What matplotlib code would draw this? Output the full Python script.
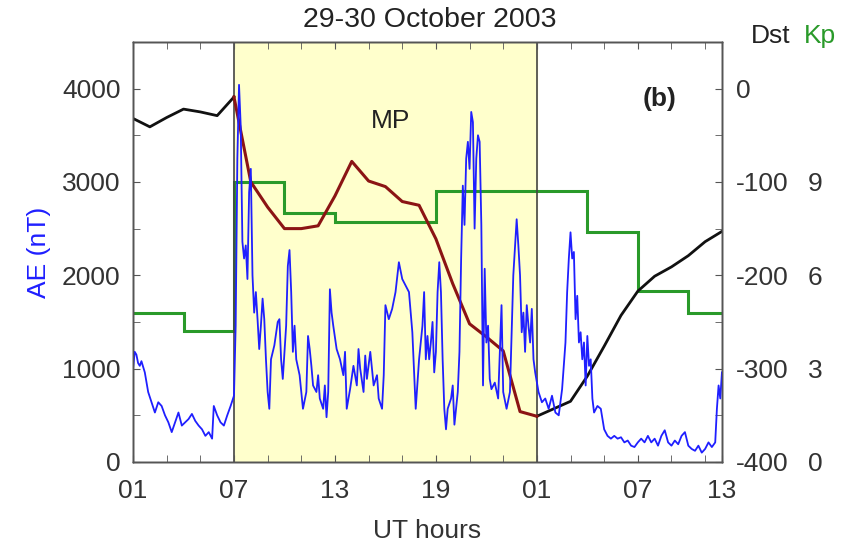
import numpy as np
import matplotlib
matplotlib.use('Agg')
import matplotlib.pyplot as plt
from matplotlib.ticker import MultipleLocator, FixedLocator

plt.rcParams['font.family'] = ['Liberation Sans', 'DejaVu Sans']
plt.rcParams['axes.unicode_minus'] = False

# AE (nT) as (hour, value); hour 1 = 01 UT 29 Oct
ae_pre = [(1.0, 1000), (1.1, 1180), (1.2, 1150), (1.3, 1060), (1.4, 1030), (1.5, 1080),
          (1.7, 960), (1.9, 750), (2.1, 640), (2.3, 530), (2.5, 640), (2.7, 600),
          (2.9, 500), (3.1, 425), (3.3, 320), (3.5, 425), (3.7, 530), (3.9, 390),
          (4.1, 425), (4.3, 460), (4.5, 515), (4.7, 440), (4.9, 390), (5.1, 350),
          (5.3, 280), (5.5, 320), (5.7, 250), (5.8, 600), (6.0, 500), (6.2, 425),
          (6.4, 390), (6.6, 500), (6.8, 600), (7.0, 710)]
ae_main = [(7.1, 1460), (7.2, 3250), (7.3, 4040), (7.4, 3600), (7.5, 2360), (7.6, 2180),
           (7.7, 2320), (7.8, 1960), (7.9, 2890), (8.0, 3140), (8.1, 2000), (8.2, 1600),
           (8.3, 1820), (8.4, 1530), (8.5, 1210), (8.6, 1460), (8.7, 1750), (8.8, 1530),
           (8.9, 1100), (9.0, 750), (9.1, 570), (9.2, 1100), (9.4, 1250), (9.6, 1500),
           (9.7, 1530), (9.8, 1100), (9.9, 890), (10.1, 1460), (10.2, 2100), (10.3, 2270),
           (10.4, 1820), (10.5, 1180), (10.6, 1460), (10.7, 1100), (10.9, 930), (11.1, 570),
           (11.3, 750), (11.4, 1350), (11.5, 1210), (11.6, 1030), (11.7, 820), (11.9, 750),
           (12.0, 930), (12.1, 680), (12.3, 570), (12.4, 820), (12.5, 480), (12.6, 750),
           (12.7, 1850), (12.8, 1600), (12.9, 1460), (13.1, 1210), (13.3, 1100), (13.5, 930),
           (13.6, 1180), (13.7, 570), (13.9, 780), (14.1, 1030), (14.3, 820), (14.4, 1210),
           (14.5, 1000), (14.7, 750), (14.8, 1140), (14.9, 890), (15.1, 1180), (15.3, 820),
           (15.5, 930), (15.6, 680), (15.8, 570), (15.9, 930), (16.0, 1680), (16.2, 1530),
           (16.4, 1640), (16.6, 1820), (16.8, 2140), (17.0, 1960), (17.2, 1890), (17.4, 1820),
           (17.6, 1390), (17.8, 570), (18.0, 1100), (18.2, 1460), (18.3, 1820), (18.4, 1100),
           (18.5, 1350), (18.6, 1100), (18.7, 1280), (18.8, 1500), (18.9, 960), (19.0, 1180),
           (19.1, 1820), (19.2, 2140), (19.3, 1820), (19.4, 1100), (19.5, 570), (19.6, 350),
           (19.7, 570), (19.9, 680), (20.0, 820), (20.1, 400), (20.3, 750), (20.4, 1180),
           (20.5, 2180), (20.6, 2960), (20.7, 2540), (20.8, 3250), (20.9, 3430), (21.0, 3140),
           (21.1, 3750), (21.2, 3640), (21.3, 2500), (21.4, 3250), (21.5, 3500), (21.6, 3430),
           (21.7, 2540), (21.8, 820), (21.9, 2070), (22.0, 1280), (22.1, 1460), (22.2, 890),
           (22.3, 780), (22.5, 850), (22.7, 680), (22.8, 1180), (22.9, 1680), (23.0, 750),
           (23.2, 570), (23.4, 750), (23.6, 2000), (23.8, 2600), (23.9, 2320), (24.0, 2000),
           (24.1, 1390), (24.2, 1600), (24.3, 1180), (24.4, 1680), (24.5, 1460), (24.6, 1280),
           (24.7, 1640), (24.8, 1100), (24.9, 960)]
ae_rec = [(25.1, 750), (25.3, 640), (25.5, 680), (25.7, 570), (25.9, 710), (26.1, 530),
          (26.3, 500), (26.5, 780), (26.7, 1280), (26.8, 1820), (26.9, 2180), (27.0, 2460),
          (27.1, 2180), (27.2, 2250), (27.3, 1530), (27.4, 1780), (27.5, 1280), (27.6, 1390),
          (27.7, 1100), (27.8, 1280), (27.9, 820), (28.0, 1350), (28.1, 1030), (28.2, 1100),
          (28.3, 680), (28.4, 530), (28.6, 600), (28.8, 570), (29.0, 350), (29.2, 280),
          (29.4, 250), (29.6, 280), (29.8, 250), (30.0, 265), (30.2, 210), (30.4, 230),
          (30.6, 175), (30.8, 160), (31.0, 210), (31.2, 250), (31.4, 210), (31.6, 280),
          (31.8, 210), (32.0, 250), (32.2, 175), (32.4, 280), (32.6, 340), (32.8, 210),
          (33.0, 175), (33.2, 230), (33.4, 190), (33.6, 280), (33.8, 320), (34.0, 175),
          (34.2, 140), (34.4, 120), (34.6, 175), (34.8, 100), (35.0, 140), (35.2, 210),
          (35.4, 160), (35.6, 210), (35.7, 570), (35.8, 820), (35.9, 680), (36.0, 960)]

# Dst (nT), hourly from hour 1 to 36
dst_hours = np.arange(1, 37)
dst = [-32, -41, -31, -22, -25, -29, -9, -100, -127, -150, -150, -147, -115, -78, -99, -105,
       -121, -125, -161, -209, -252, -266, -281, -346, -351, -343, -335, -308, -276, -243,
       -217, -201, -191, -179, -164, -153]

# Kp, 3-hour steps
kp_edges = [1, 4, 7, 10, 13, 16, 19, 22, 25, 28, 31, 34, 36]
kp = [4.8, 4.2, 9.0, 8.0, 7.7, 7.7, 8.7, 8.7, 8.7, 7.4, 5.5, 4.8]

mp_start, mp_end = 7, 25
xtick_pos = [1, 7, 13, 19, 25, 31, 36]
xtick_lab = ['01', '07', '13', '19', '01', '07', '13']

ae = np.array(ae_pre + ae_main + ae_rec)
dst = np.array(dst)

tick_col = '#333333'
fs = 19

fig = plt.figure(figsize=(8.56, 5.47), dpi=100)
ax = fig.add_axes([0.1554, 0.1554, 0.688, 0.768])
ax_dst = ax.twinx()
ax_kp = ax.twinx()

# layering: shading + Kp at the bottom, Dst in the middle, AE on top
ax_kp.set_zorder(1)
ax_dst.set_zorder(2)
ax.set_zorder(3)
ax.patch.set_visible(False)
ax_dst.patch.set_visible(False)

ax_kp.axvspan(mp_start, mp_end, color='#ffffcc', zorder=0)
ax_kp.axvline(mp_start, color='#444444', lw=1.2)
ax_kp.axvline(mp_end, color='#444444', lw=1.2)
ax_kp.stairs(kp, kp_edges, baseline=None, color='#2a9a2a', lw=2.2)

m = (dst_hours >= mp_start) & (dst_hours <= mp_end)
ax_dst.plot(dst_hours[dst_hours <= mp_start], dst[dst_hours <= mp_start], color='#111111', lw=2)
ax_dst.plot(dst_hours[dst_hours >= mp_end], dst[dst_hours >= mp_end], color='#111111', lw=2)
ax_dst.plot(dst_hours[m], dst[m], color='#8b1414', lw=2.2)

ax.plot(ae[:, 0], ae[:, 1], color='#1f1fff', lw=1.3)

ax.set_xlim(1, 36)
ax.set_ylim(0, 4500)
ax_dst.set_ylim(-400, 50)
ax_kp.set_ylim(0, 13.5)

ax.set_xticks(xtick_pos)
ax.set_xticklabels(xtick_lab)
ax.xaxis.set_minor_locator(FixedLocator(np.arange(1, 37, 2)))
ax.set_yticks([0, 1000, 2000, 3000, 4000])
ax.yaxis.set_minor_locator(MultipleLocator(500))
ax.tick_params(which='both', direction='in', top=True, length=5, color='#555555',
               labelsize=fs, labelcolor=tick_col, pad=9)
ax.tick_params(axis='x', which='major', pad=12)

ax_dst.set_yticks([-400, -300, -200, -100, 0])
ax_dst.yaxis.set_minor_locator(MultipleLocator(50))
ax_dst.tick_params(which='both', direction='in', length=5, color='#555555',
                   labelsize=fs, labelcolor=tick_col, pad=10)

ax_kp.set_yticks([0, 3, 6, 9])
ax_kp.tick_params(length=0, labelsize=fs, labelcolor=tick_col, pad=62)

for a in (ax, ax_dst, ax_kp):
    for s in a.spines.values():
        s.set_color('#555555')
        s.set_linewidth(1.0)

ax.set_xlabel('UT hours', fontsize=fs, color=tick_col, labelpad=12)
ax.set_ylabel('AE (nT)', fontsize=fs, color='#1f1fff', labelpad=8)
fig.text(0.502, 0.963, '29-30 October 2003', fontsize=20.5, color='#222222', ha='center', va='center')
fig.text(0.9, 0.935, 'Dst', fontsize=fs, color='#222222', ha='center', va='center')
fig.text(0.958, 0.935, 'Kp', fontsize=fs, color='#2a9a2a', ha='center', va='center')
ax.text(16.3, 3650, 'MP', fontsize=fs, color='#222222', ha='center', va='center')
ax.text(32.3, 3890, '(b)', fontsize=fs, fontweight='bold', color='#222222', ha='center', va='center')

fig.savefig('out.png', dpi=100)
